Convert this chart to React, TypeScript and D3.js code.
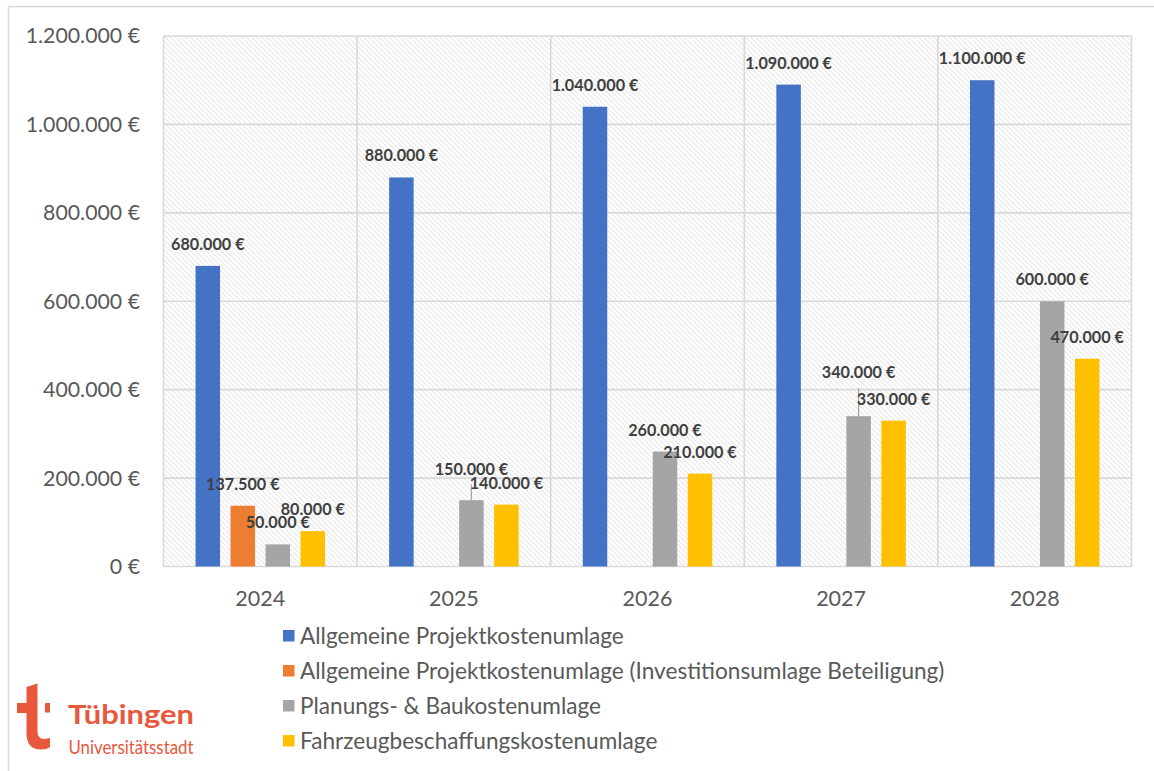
import React from "react";
import * as d3 from "d3";

const years = ["2024", "2025", "2026", "2027", "2028"];
const seriesNames = [
  "Allgemeine Projektkostenumlage",
  "Allgemeine Projektkostenumlage (Investitionsumlage Beteiligung)",
  "Planungs- & Baukostenumlage",
  "Fahrzeugbeschaffungskostenumlage",
];
const allgemeine = [680000, 880000, 1040000, 1090000, 1100000];
const investition: (number | null)[] = [137500, null, null, null, null];
const planung = [50000, 150000, 260000, 340000, 600000];
const fahrzeug = [80000, 140000, 210000, 330000, 470000];
const yTicks = [0, 200000, 400000, 600000, 800000, 1000000, 1200000];

const colors = ["#4472c4", "#ed7d31", "#a5a5a5", "#ffc000"];
// label lift overrides (series index, year index) -> extra distance above bar, with leader line
const labelLift: Record<string, number> = { "2-1": 25.5, "2-3": 38 };

const W = 1154;
const H = 771;
const FONT = "Lato, 'Open Sans', sans-serif";

const locale = d3.formatLocale({
  decimal: ",",
  thousands: ".",
  grouping: [3],
  currency: ["", " €"],
});
const fmt = (v: number) => locale.format(",.0f")(v) + " €";

export default function App() {
  const series = [allgemeine, investition, planung, fahrzeug];
  const x0 = d3.scaleBand<string>().domain(years).range([163.5, 1131.5]).padding(0);
  const x1 = d3
    .scaleBand<string>()
    .domain(["0", "1", "2", "3"])
    .range([-70, 70])
    .paddingInner(0.3)
    .paddingOuter(0.15);
  const y = d3.scaleLinear().domain([0, 1200000]).range([566.5, 36]);
  const left = x0.range()[0];
  const right = x0.range()[1];
  const gridColor = "#d9d9d9";

  return (
    <svg
      width={W}
      height={H}
      style={{ position: "absolute", left: 0, top: 0, background: "#fff" }}
      fontFamily={FONT}
    >
      <defs>
        <pattern
          id="hatch"
          width={3.6}
          height={3.6}
          patternUnits="userSpaceOnUse"
          patternTransform="rotate(-45)"
        >
          <rect width={3.6} height={3.6} fill="#fff" />
          <line x1={0} y1={0} x2={0} y2={3.6} stroke="#d2d2d2" strokeWidth={1.1} />
        </pattern>
      </defs>
      {/* outer chart border (partially visible) */}
      <line x1={8.5} y1={6.5} x2={W} y2={6.5} stroke={gridColor} strokeWidth={1.5} />
      <line x1={8.5} y1={6.5} x2={8.5} y2={H} stroke={gridColor} strokeWidth={1.5} />

      {/* plot background */}
      <rect x={left} y={y(1200000)} width={right - left} height={y(0) - y(1200000)} fill="url(#hatch)" />

      {/* horizontal gridlines */}
      {yTicks.map((t) => (
        <line key={"h" + t} x1={left} x2={right} y1={y(t)} y2={y(t)} stroke={gridColor} strokeWidth={1.6} />
      ))}
      {/* vertical gridlines */}
      {[...years.map((yr) => x0(yr) as number), right].map((xv, i) => (
        <line key={"v" + i} x1={xv} x2={xv} y1={y(1200000)} y2={y(0)} stroke={gridColor} strokeWidth={1.6} />
      ))}

      {/* y tick labels */}
      {yTicks.map((t) => (
        <text
          key={"yt" + t}
          x={140}
          y={y(t)}
          dy="0.35em"
          textAnchor="end"
          fontSize={21.3}
          fill="#595959"
        >
          {fmt(t)}
        </text>
      ))}

      {/* x labels */}
      {years.map((yr) => (
        <text
          key={"xl" + yr}
          x={(x0(yr) as number) + x0.bandwidth() / 2}
          y={606}
          textAnchor="middle"
          fontSize={21.5}
          fill="#595959"
        >
          {yr}
        </text>
      ))}

      {/* bars */}
      {series.map((vals, si) =>
        vals.map((v, yi) => {
          if (v == null) return null;
          const cx = (x0(years[yi]) as number) + x0.bandwidth() / 2;
          const bx = cx + (x1(String(si)) as number);
          return (
            <rect
              key={`b${si}-${yi}`}
              x={bx}
              y={y(v)}
              width={x1.bandwidth()}
              height={y(0) - y(v)}
              fill={colors[si]}
            />
          );
        })
      )}

      {/* data labels */}
      {series.map((vals, si) =>
        vals.map((v, yi) => {
          if (v == null) return null;
          const cx = (x0(years[yi]) as number) + x0.bandwidth() / 2;
          const bcx = cx + (x1(String(si)) as number) + x1.bandwidth() / 2;
          const lift = labelLift[`${si}-${yi}`];
          const base = y(v) - (lift ?? 16);
          return (
            <g key={`l${si}-${yi}`}>
              {lift != null && (
                <line x1={bcx} x2={bcx} y1={y(v)} y2={base + 10} stroke="#a6a6a6" strokeWidth={1.3} />
              )}
              <text
                x={bcx}
                y={base}
                textAnchor="middle"
                fontSize={16.2}
                fontWeight="bold"
                fill="#404040"
              >
                {fmt(v)}
              </text>
            </g>
          );
        })
      )}

      {/* legend */}
      {seriesNames.map((name, i) => (
        <g key={"lg" + i} transform={`translate(283, ${636 + i * 35})`}>
          <rect x={0} y={-6} width={11.5} height={11.5} fill={colors[i]} />
          <text x={17} y={0} dy="0.35em" fontSize={22.6} fill="#595959">
            {name}
          </text>
        </g>
      ))}

      {/* logo */}
      <g fill="#e8583c">
        <path d="M26.5,687 L37.5,683.5 L37.5,731 Q37.5,739 44,739 L50,738 L50,747 Q47,749.5 41,749.5 Q26.5,749.5 26.5,733 L26.5,713 L17,713 L17,703 L26.5,703 Z" />
        <rect x={45} y={703} width={5} height={9.5} />
        <text x={68} y={724} fontSize={27} fontWeight="bold" textLength={126} lengthAdjust="spacingAndGlyphs">
          Tübingen
        </text>
        <text x={68.5} y={754} fontSize={20} textLength={125} lengthAdjust="spacingAndGlyphs">
          Universitätsstadt
        </text>
      </g>
    </svg>
  );
}
